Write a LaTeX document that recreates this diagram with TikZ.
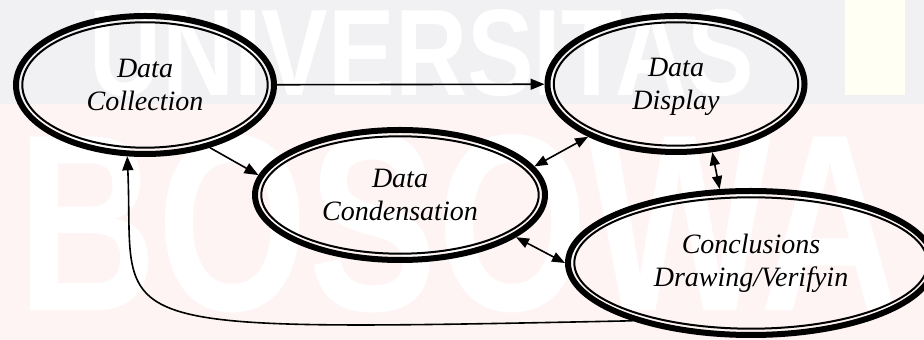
\documentclass[tikz,border=0pt]{standalone}
\usepackage{fontspec}
\setmainfont{Liberation Serif}
\setsansfont{Liberation Sans}
\usetikzlibrary{shapes.geometric,arrows.meta}
\definecolor{bandgrey}{RGB}{241,241,244}
\definecolor{bandpink}{RGB}{254,244,244}
\definecolor{bandcream}{RGB}{255,255,244}

\begin{document}
\begin{tikzpicture}[x=0.5pt,y=-0.5pt,
  stage/.style={ellipse,draw,line width=3pt,inner sep=0pt,align=center,
    font=\itshape\fontsize{14}{16.5}\selectfont},
  ring/.style={ellipse,draw,line width=1pt,inner sep=0pt},
  link/.style={line width=0.8pt,-{Triangle[length=7pt,width=5.5pt]}},
  twoway/.style={line width=0.8pt,{Triangle[length=6.5pt,width=5pt]}-{Triangle[length=6.5pt,width=5pt]}}]
\useasboundingbox (0,0) rectangle (924,340);
% background
\fill[bandpink] (0,0) rectangle (924,340);
\fill[bandgrey] (0,0) rectangle (924,104);
\fill[bandcream] (845,0) rectangle (905,95);
\node[white,inner sep=0pt] (wmtop) at (422,53) {\resizebox{332pt}{43pt}{\sffamily\bfseries UNIVERSITAS}};
\node[white,inner sep=0pt] (wmbot) at (459,224) {\resizebox{441pt}{88pt}{\sffamily\bfseries BOSOWA}};
% stages
\node[stage,minimum width=129pt,minimum height=69pt] (coll) at (145,85) {Data\\Collection};
\node[ring,minimum width=122.7pt,minimum height=62.7pt] at (coll) {};
\node[stage,minimum width=128.5pt,minimum height=68pt,text depth=0pt] (disp) at (676,84) {Data\\Display};
\node[ring,minimum width=122.2pt,minimum height=61.7pt] at (disp) {};
\node[stage,minimum width=145pt,minimum height=65pt] (cond) at (400,195) {Data\\Condensation};
\node[ring,minimum width=138.7pt,minimum height=58.7pt] at (cond) {};
\node[stage,minimum width=183pt,minimum height=72pt] (concl) at (751,263) {Conclusions\\Drawing/Verifyin};
\node[ring,minimum width=176.7pt,minimum height=65.7pt] at (concl) {};
% flows
\draw[link] (coll) -- (disp);
\draw[link] (coll.-44) -- (cond.172);
\draw[twoway] (cond.12) -- (disp.-149);
\draw[twoway] (disp.-62) -- (concl.113);
\draw[twoway] (cond.-20) -- (concl.180);
\draw[link] (concl.206) .. controls (80,332) and (135,332) .. (coll.256);
\end{tikzpicture}
\end{document}
